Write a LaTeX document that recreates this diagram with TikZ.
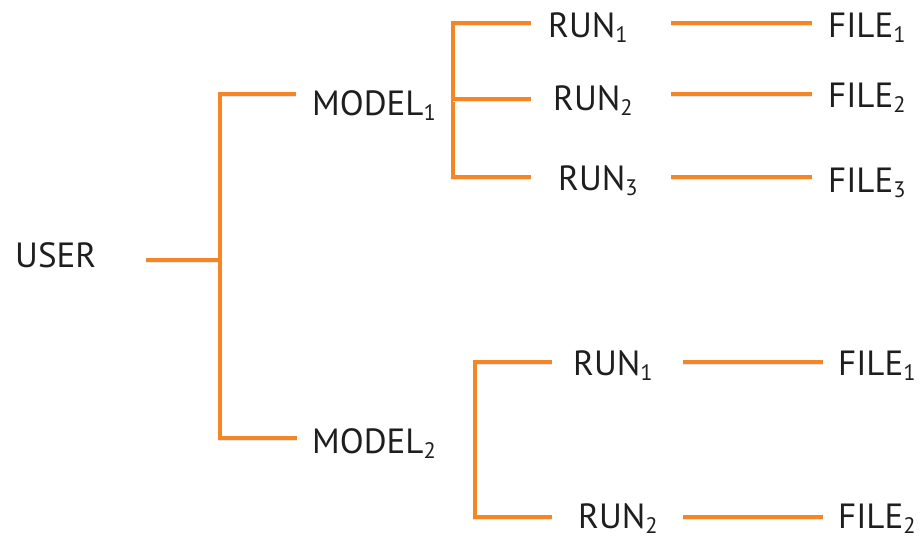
\documentclass[tikz,border=0pt]{standalone}
\usepackage{fontspec}
\setmainfont{PT Sans}
\usepackage{graphicx}
\definecolor{linkorange}{RGB}{245,134,38}
\definecolor{labelgray}{RGB}{30,30,30}
\newcommand\lowsub[1]{\raisebox{-0.17em}{\scalebox{0.64}{#1}}}
\tikzset{
  label text/.style={anchor=base west, inner sep=0pt, text=labelgray, font=\fontsize{35}{40}\selectfont},
  link/.style={draw=linkorange, line width=4pt, line join=miter, line cap=butt,
    preaction={draw=black!10, line width=4pt, transform canvas={yshift=-1pt}}}
}
\begin{document}
\begin{tikzpicture}[x=1pt,y=-1pt]
\useasboundingbox (0,0) rectangle (922,539);
% labels
\node[label text] (user) at (15,267) {USER};
\node[label text] (model1) at (312,115) {MODEL\lowsub{1}};
\node[label text] (model2) at (312,453) {MODEL\lowsub{2}};
\node[label text] (run11) at (548,37) {RUN\lowsub{1}};
\node[label text] (run12) at (553,110) {RUN\lowsub{2}};
\node[label text] (run13) at (558,190) {RUN\lowsub{3}};
\node[label text] (file11) at (828,37) {FILE\lowsub{1}};
\node[label text] (file12) at (828,107) {FILE\lowsub{2}};
\node[label text] (file13) at (828,192) {FILE\lowsub{3}};
\node[label text] (run21) at (573,375) {RUN\lowsub{1}};
\node[label text] (run22) at (578,528) {RUN\lowsub{2}};
\node[label text] (file21) at (838,375) {FILE\lowsub{1}};
\node[label text] (file22) at (838,528) {FILE\lowsub{2}};
% junction coordinates
\coordinate (uA) at (146,260);
\coordinate (uJ) at (220,260);
\coordinate (uT) at (220,94);
\coordinate (uB) at (220,438);
\coordinate (m1A) at (296,94);
\coordinate (m2A) at (297,438);
\coordinate (b1T) at (453,23);
\coordinate (b1M) at (453,99);
\coordinate (b1B) at (453,177);
\coordinate (r11A) at (531,23);
\coordinate (r12A) at (531,99);
\coordinate (r13A) at (531,177);
\coordinate (b2T) at (475,362);
\coordinate (b2B) at (475,517);
\coordinate (r21A) at (552,362);
\coordinate (r22A) at (552,517);
\coordinate (r11B) at (671,23);
\coordinate (f11A) at (812,23);
\coordinate (r12B) at (671,94);
\coordinate (f12A) at (812,94);
\coordinate (r13B) at (671,177);
\coordinate (f13A) at (812,177);
\coordinate (r21B) at (683,362);
\coordinate (f21A) at (823,362);
\coordinate (r22B) at (683,517);
\coordinate (f22A) at (823,517);
% connectors
\draw[link] (uA) -- (uJ);
\draw[link] (m1A) -- (uT) -- (uB) -- (m2A);
\draw[link] (r11A) -- (b1T) -- (b1B) -- (r13A);
\draw[link] (b1M) -- (r12A);
\draw[link] (r21A) -- (b2T) -- (b2B) -- (r22A);
\draw[link] (r11B) -- (f11A);
\draw[link] (r12B) -- (f12A);
\draw[link] (r13B) -- (f13A);
\draw[link] (r21B) -- (f21A);
\draw[link] (r22B) -- (f22A);
\end{tikzpicture}
\end{document}
